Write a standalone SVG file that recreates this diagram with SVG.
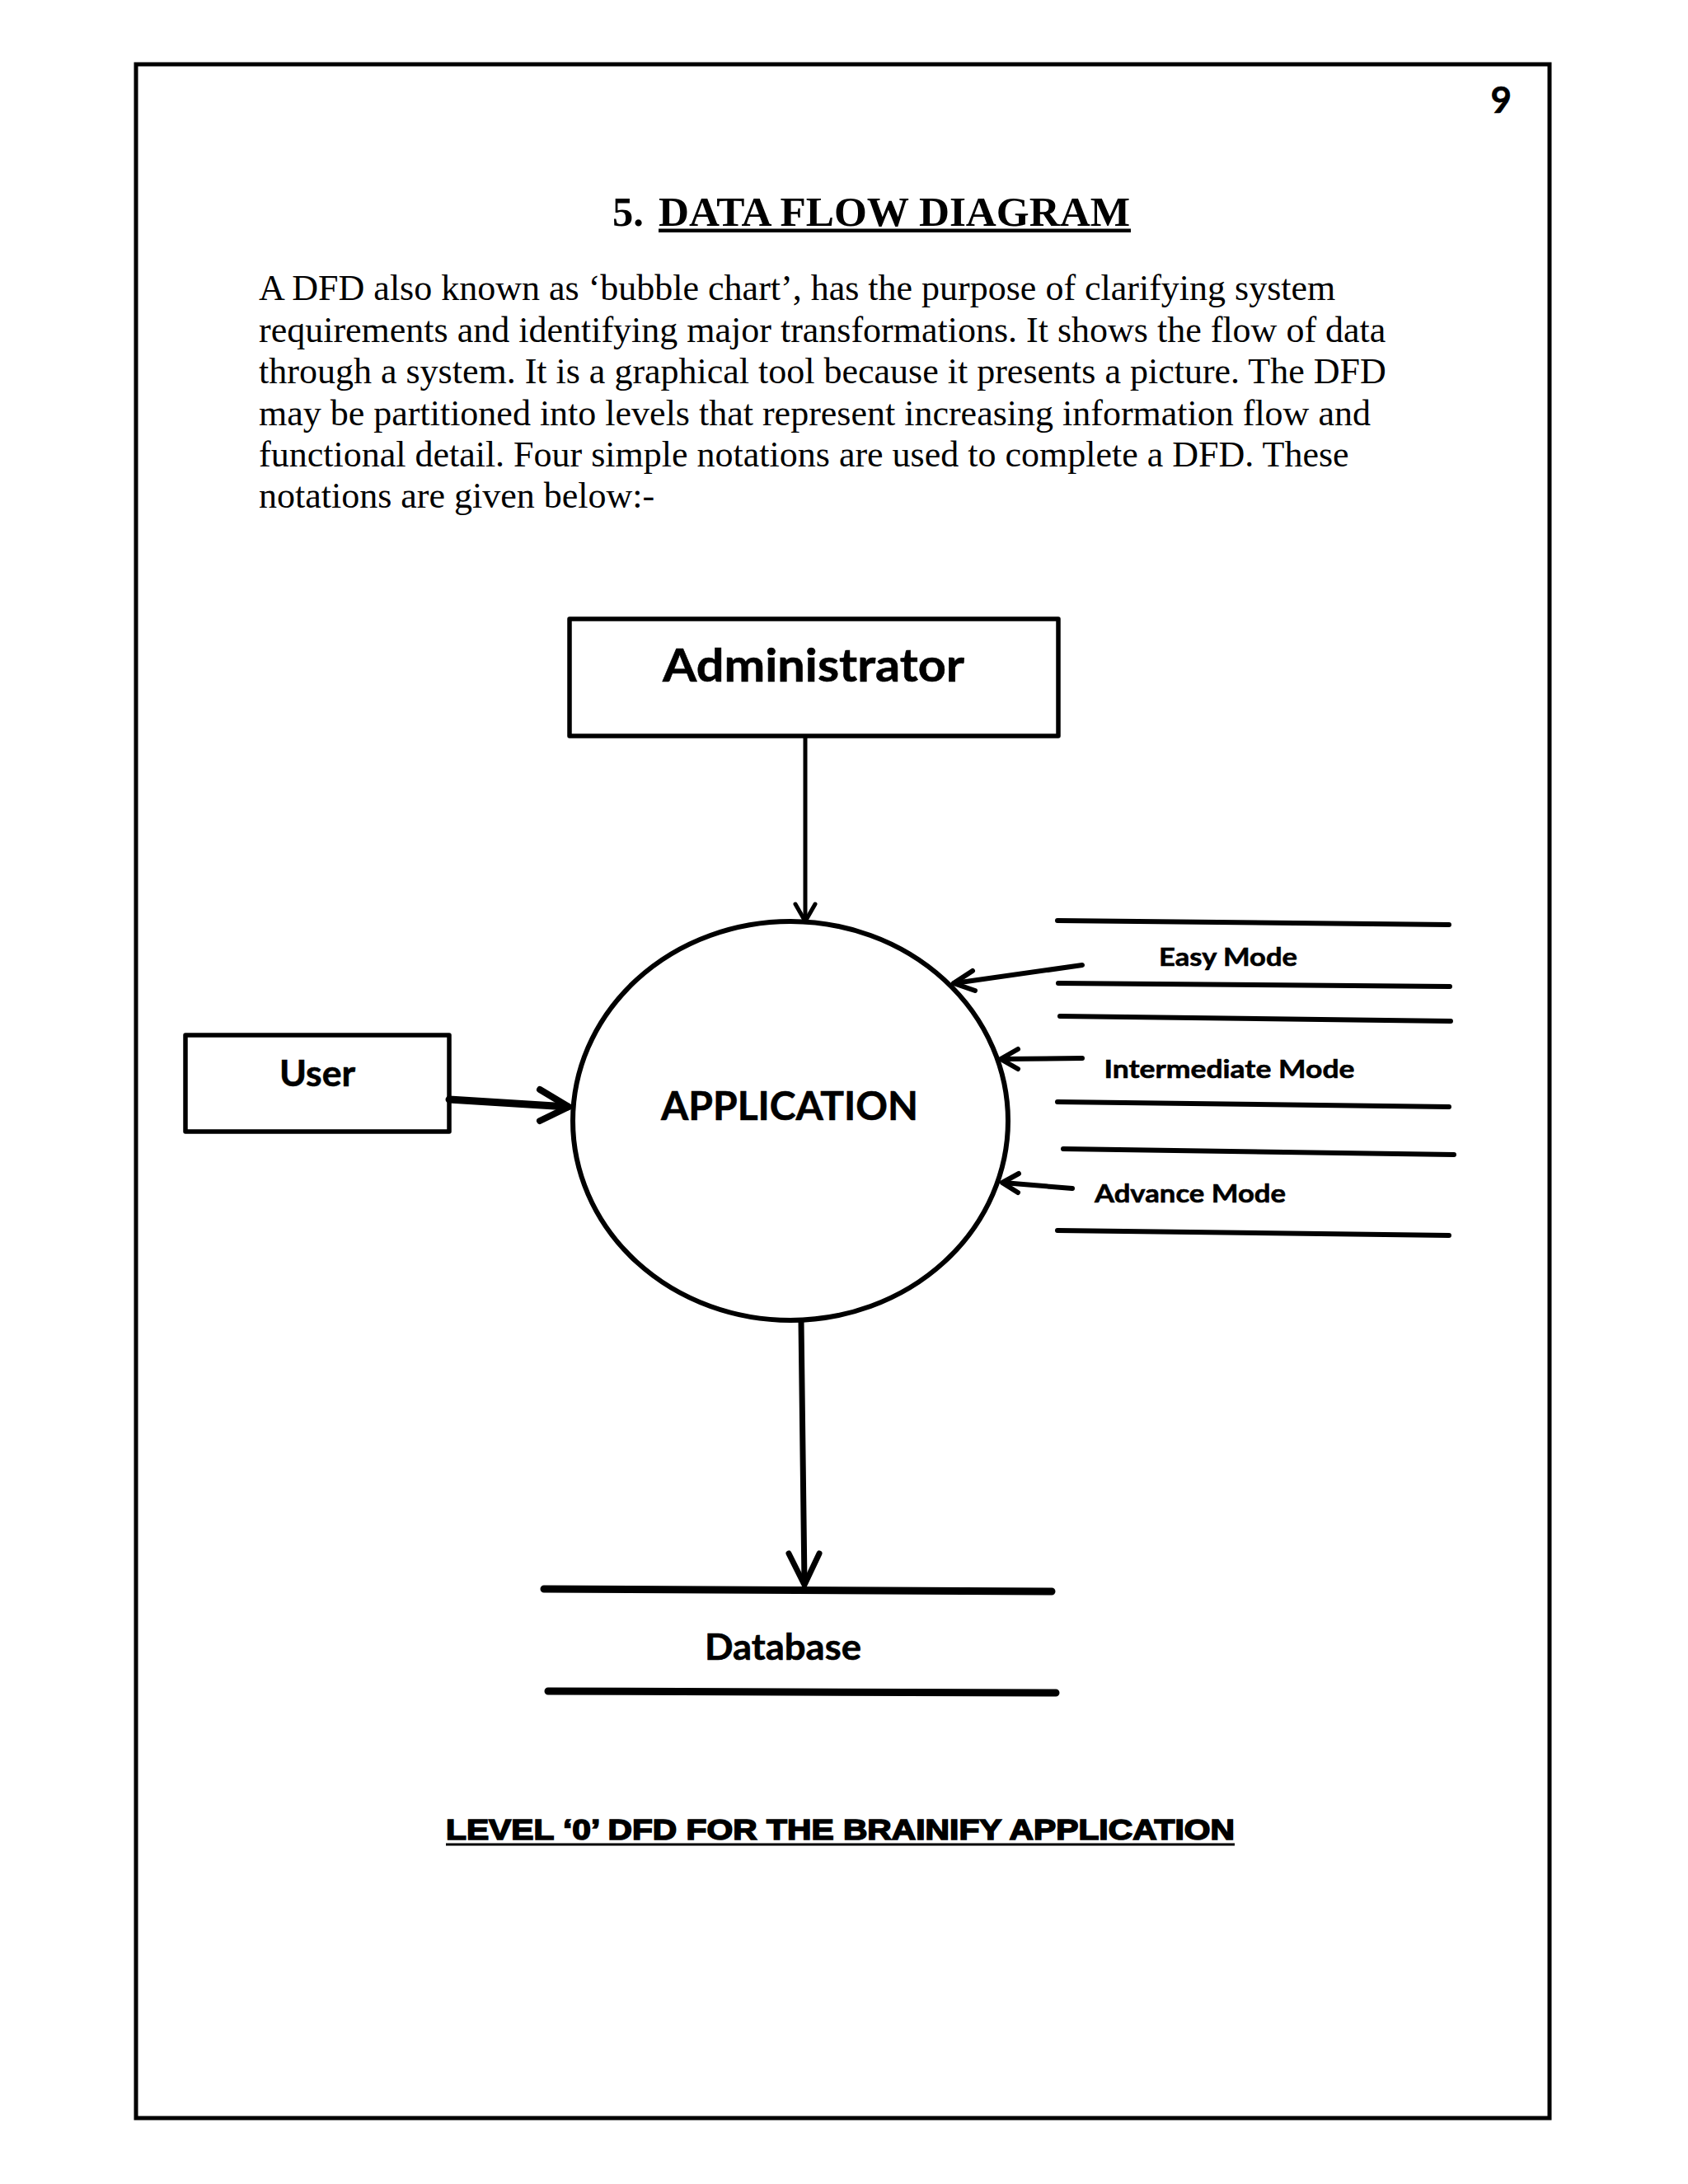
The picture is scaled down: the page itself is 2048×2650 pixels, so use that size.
<svg xmlns="http://www.w3.org/2000/svg" width="2048" height="2650" viewBox="0 0 2048 2650">
<style>
.box{fill:#fff;stroke:#000;stroke-width:5.5;stroke-linejoin:round}
.lbl{font-family:Lato,"Open Sans","Liberation Sans",sans-serif;font-weight:bold;fill:#000;stroke:#000;stroke-width:0.6}
.para{font-family:"Liberation Serif","Times New Roman",serif;font-size:44px;fill:#000}
.ln{stroke:#000;fill:none;stroke-linecap:round;stroke-linejoin:round}
</style>
<rect x="0" y="0" width="2048" height="2650" fill="#fff"/>
<rect x="165" y="78" width="1715" height="2492" fill="none" stroke="#000" stroke-width="5"/>
<text x="1834" y="137" text-anchor="end" class="lbl" font-size="44">9</text>
<text y="274" font-family="'Liberation Serif','Times New Roman',serif" font-weight="bold" font-size="50.5" fill="#000"><tspan x="743">5.</tspan><tspan x="799" textLength="572" lengthAdjust="spacingAndGlyphs">DATA FLOW DIAGRAM</tspan></text>
<rect x="799" y="277.5" width="573" height="4.5" fill="#000"/>
<text class="para" x="314" y="364">A DFD also known as ‘bubble chart’, has the purpose of clarifying system</text>
<text class="para" x="314" y="414.5">requirements and identifying major transformations. It shows the flow of data</text>
<text class="para" x="314" y="465">through a system. It is a graphical tool because it presents a picture. The DFD</text>
<text class="para" x="314" y="515.5">may be partitioned into levels that represent increasing information flow and</text>
<text class="para" x="314" y="566">functional detail. Four simple notations are used to complete a DFD. These</text>
<text class="para" x="314" y="616">notations are given below:-</text>

<g id="administrator">
<rect class="box" x="691" y="751" width="593" height="142"/>
<text class="lbl" x="987" y="827" font-size="56" text-anchor="middle" textLength="366" lengthAdjust="spacingAndGlyphs">Administrator</text>
</g>
<g id="user">
<rect class="box" x="225" y="1256" width="320" height="117"/>
<text class="lbl" x="385" y="1318" font-size="43" text-anchor="middle" textLength="92" lengthAdjust="spacingAndGlyphs">User</text>
</g>
<g id="application">
<ellipse cx="959" cy="1360" rx="264" ry="242" fill="#fff" stroke="#000" stroke-width="6"/>
<text class="lbl" x="958" y="1359" font-size="48" text-anchor="middle" textLength="312" lengthAdjust="spacingAndGlyphs">APPLICATION</text>
</g>
<g id="database">
<line class="ln" x1="660" y1="1928" x2="1276" y2="1931" stroke-width="9" stroke-linecap="butt"/>
<line class="ln" x1="665" y1="2052" x2="1281" y2="2054" stroke-width="9" stroke-linecap="butt"/>
<text class="lbl" x="950" y="2014" font-size="43" text-anchor="middle" textLength="190" lengthAdjust="spacingAndGlyphs">Database</text>
</g>
<g id="easy-mode">
<line class="ln" x1="1283" y1="1117" x2="1758" y2="1122" stroke-width="6" stroke-linecap="butt"/>
<line class="ln" x1="1284" y1="1193" x2="1759" y2="1197" stroke-width="6" stroke-linecap="butt"/>
<text class="lbl" x="1406" y="1172" font-size="31" textLength="168" lengthAdjust="spacingAndGlyphs">Easy Mode</text>
</g>
<g id="intermediate-mode">
<line class="ln" x1="1286" y1="1233" x2="1760" y2="1239" stroke-width="6" stroke-linecap="butt"/>
<line class="ln" x1="1283" y1="1337" x2="1758" y2="1343" stroke-width="6" stroke-linecap="butt"/>
<text class="lbl" x="1339.5" y="1308" font-size="31" textLength="304" lengthAdjust="spacingAndGlyphs">Intermediate Mode</text>
</g>
<g id="advance-mode">
<line class="ln" x1="1290" y1="1394" x2="1764" y2="1401" stroke-width="6" stroke-linecap="butt"/>
<line class="ln" x1="1283" y1="1493" x2="1758" y2="1499" stroke-width="6" stroke-linecap="butt"/>
<text class="lbl" x="1328" y="1459" font-size="31" textLength="232" lengthAdjust="spacingAndGlyphs">Advance Mode</text>
</g>

<g id="connectors">
<line class="ln" x1="977" y1="894" x2="977" y2="1117" stroke-width="5"/>
<polyline class="ln" points="965,1097 977,1118 989,1097" stroke-width="5"/>
<line class="ln" x1="545" y1="1334" x2="689" y2="1343" stroke-width="9" stroke-linecap="butt"/>
<polyline class="ln" points="655,1322 690,1343 655,1360" stroke-width="8"/>
<line class="ln" x1="972" y1="1603" x2="976" y2="1921" stroke-width="7"/>
<polyline class="ln" points="957,1885 976,1923 994,1885" stroke-width="7"/>
<line class="ln" x1="1313" y1="1171" x2="1158" y2="1193" stroke-width="6"/>
<polyline class="ln" points="1180,1178 1157,1193 1183,1202" stroke-width="6"/>
<line class="ln" x1="1313" y1="1284" x2="1215" y2="1285" stroke-width="6"/>
<polyline class="ln" points="1235,1273 1214,1285 1235,1297" stroke-width="6"/>
<line class="ln" x1="1301" y1="1442" x2="1217" y2="1435" stroke-width="6"/>
<polyline class="ln" points="1236,1424 1216,1435 1235,1447" stroke-width="6"/>
</g>

<text x="541" y="2232" font-family="'Liberation Sans',Arial,sans-serif" font-weight="bold" font-size="35" fill="#000" stroke="#000" stroke-width="1.6" textLength="957" lengthAdjust="spacingAndGlyphs">LEVEL ‘0’ DFD FOR THE BRAINIFY APPLICATION</text>
<rect x="541" y="2236.5" width="957" height="3" fill="#000"/>
</svg>
